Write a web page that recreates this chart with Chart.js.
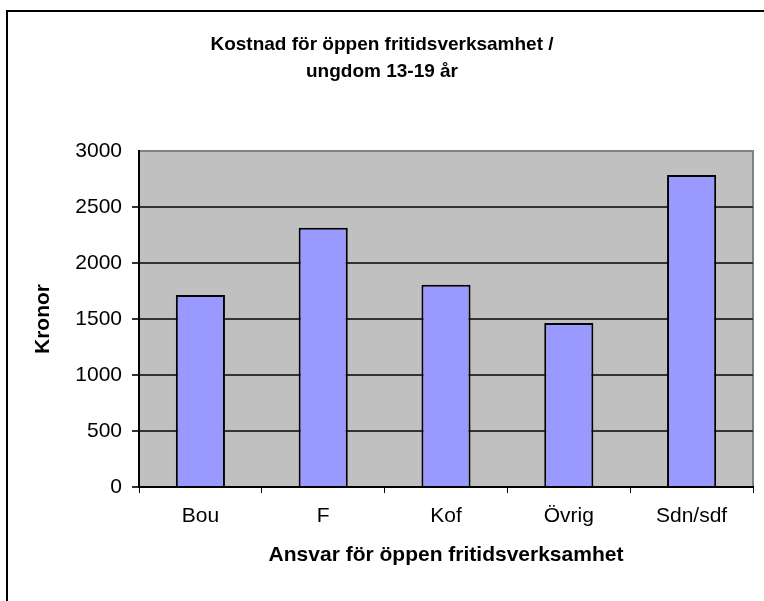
<!DOCTYPE html>
<html lang="sv">
<head>
    <meta charset="UTF-8">
    <title>Kostnad för öppen fritidsverksamhet</title>
    <script src="https://cdn.jsdelivr.net/npm/chart.js"></script>
    <style>
        html, body { margin: 0; padding: 0; background: #fff; overflow: hidden; }
        #wrap { position: relative; width: 764px; height: 601px; }
    </style>
</head>
<body>
<div id="wrap"><canvas id="myChart"></canvas></div>

<script>
    const categories = ['Bou', 'F', 'Kof', 'Övrig', 'Sdn/sdf'];
    const costs = [1715, 2315, 1805, 1465, 2785];
    const titleLines = ['Kostnad för öppen fritidsverksamhet /', 'ungdom 13-19 år'];
    const yMin = 0, yMax = 3000, yStep = 500;

    const fontFamily = '"Liberation Sans", Arial, sans-serif';
    const titleCenterX = 382;

    // grey plot background, frame and two-line title
    const decor = {
        id: 'decor',
        beforeDraw(chart) {
            const { ctx, chartArea: a } = chart;
            ctx.save();
            ctx.fillStyle = '#C0C0C0';
            ctx.fillRect(a.left, a.top, a.right - a.left, a.bottom - a.top);
            ctx.strokeStyle = '#808080';
            ctx.lineWidth = 2;
            ctx.strokeRect(a.left, a.top, a.right - a.left, a.bottom - a.top);
            ctx.restore();
        },
        afterDraw(chart) {
            const ctx = chart.ctx;
            ctx.save();
            ctx.strokeStyle = '#000';
            ctx.lineWidth = 2;
            ctx.beginPath();
            ctx.moveTo(7, 640);
            ctx.lineTo(7, 11);
            ctx.lineTo(800, 11);
            ctx.stroke();
            ctx.fillStyle = '#000';
            ctx.font = 'bold 19px ' + fontFamily;
            ctx.textAlign = 'center';
            ctx.textBaseline = 'middle';
            ctx.fillText(titleLines[0], titleCenterX, 45);
            ctx.fillText(titleLines[1], titleCenterX, 72);
            ctx.restore();
        }
    };

    const ctx = document.getElementById('myChart').getContext('2d');
    new Chart(ctx, {
        type: 'bar',
        data: {
            labels: categories,
            datasets: [{
                label: 'Kronor',
                data: costs,
                backgroundColor: '#9999FF',
                borderColor: '#000000',
                borderWidth: 2,
                barPercentage: 0.4,
                categoryPercentage: 1.0
            }]
        },
        options: {
            responsive: true,
            maintainAspectRatio: false,
            animation: false,
            layout: { padding: { left: 0, top: 151, right: 11, bottom: 0 } },
            plugins: {
                legend: { display: false },
                tooltip: { enabled: false }
            },
            scales: {
                x: {
                    afterFit(scale) { scale.height = 114; },
                    grid: {
                        offset: true,
                        drawOnChartArea: false,
                        color: '#000',
                        tickLength: 6
                    },
                    border: { color: '#000', width: 2 },
                    ticks: {
                        color: '#000',
                        padding: 11,
                        font: { family: fontFamily, size: 21 }
                    },
                    title: {
                        display: true,
                        text: 'Ansvar för öppen fritidsverksamhet',
                        color: '#000',
                        padding: { bottom: 33 },
                        font: { family: fontFamily, size: 21, weight: 'bold' }
                    }
                },
                y: {
                    min: yMin,
                    max: yMax,
                    afterFit(scale) { scale.width = 139; },
                    grid: {
                        color: (c) => (c.tick && c.tick.value === yMax) ? 'rgba(0,0,0,0)' : '#333333',
                        lineWidth: 2,
                        tickLength: 7
                    },
                    border: { color: '#000', width: 2 },
                    ticks: {
                        stepSize: yStep,
                        color: '#000',
                        padding: 10,
                        font: { family: fontFamily, size: 21 },
                        callback: (v) => String(v)
                    },
                    title: {
                        display: true,
                        text: 'Kronor',
                        color: '#000',
                        padding: { top: 31 },
                        font: { family: fontFamily, size: 21, weight: 'bold' }
                    }
                }
            }
        },
        plugins: [decor]
    });
</script>
</body>
</html>
